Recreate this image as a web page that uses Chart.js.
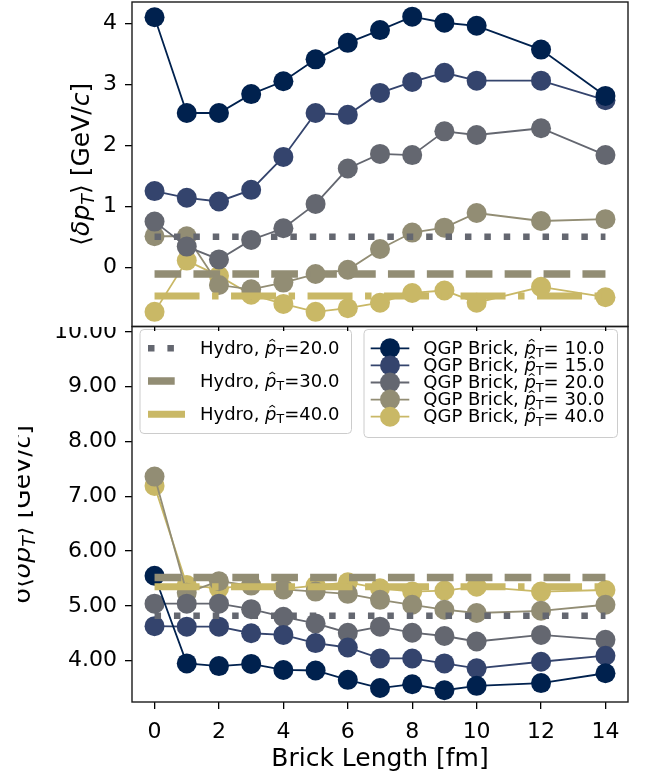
<!DOCTYPE html>
<html>
<head>
<meta charset="utf-8">
<script src="https://cdn.jsdelivr.net/npm/chart.js@4.4.1/dist/chart.umd.min.js"></script>
<style>
  body { margin: 0; background: #fff; }
  #wrap { position: relative; width: 652px; height: 781px; }
  canvas { position: absolute; left: 0; top: 0; }
</style>
</head>
<body>
<div id="wrap">
  <canvas id="sigmaChart" width="652" height="781"></canvas>
  <canvas id="meanChart" width="652" height="331"></canvas>
</div>
<script>
// ---- data ----
const brickLength = [0, 1, 2, 3, 4, 5, 6, 7, 8, 9, 10, 12, 14];
const qgpPtHat = [10, 15, 20, 30, 40];

// <delta pT> (top panel)
const meanPt10 = [4.10, 2.53, 2.53, 2.84, 3.05, 3.41, 3.68, 3.89, 4.11, 4.01, 3.96, 3.57, 2.81];
const meanPt15 = [1.25, 1.14, 1.08, 1.27, 1.81, 2.53, 2.50, 2.86, 3.04, 3.19, 3.06, 3.06, 2.74];
const meanPt20 = [0.75, 0.34, 0.13, 0.45, 0.64, 1.04, 1.62, 1.86, 1.84, 2.23, 2.17, 2.28, 1.84];
const meanPt30 = [0.51, 0.51, -0.29, -0.36, -0.25, -0.11, -0.04, 0.30, 0.57, 0.65, 0.89, 0.76, 0.79];
const meanPt40 = [-0.73, 0.11, -0.14, -0.45, -0.60, -0.73, -0.67, -0.58, -0.42, -0.38, -0.58, -0.32, -0.49];

// sigma(delta pT) (bottom panel)
const sigmaPt10 = [5.55, 3.95, 3.90, 3.94, 3.83, 3.82, 3.65, 3.50, 3.57, 3.46, 3.54, 3.59, 3.77];
const sigmaPt15 = [4.63, 4.62, 4.62, 4.50, 4.47, 4.32, 4.24, 4.04, 4.04, 3.95, 3.86, 3.98, 4.09];
const sigmaPt20 = [5.04, 5.04, 5.04, 4.94, 4.80, 4.68, 4.51, 4.62, 4.51, 4.45, 4.35, 4.47, 4.38];
const sigmaPt30 = [7.36, 5.24, 5.45, 5.37, 5.30, 5.26, 5.22, 5.11, 5.02, 4.93, 4.87, 4.91, 5.02];
const sigmaPt40 = [7.19, 5.38, 5.32, 5.38, 5.31, 5.37, 5.43, 5.32, 5.26, 5.28, 5.35, 5.26, 5.29];

// hydro reference values (constant in brick length)
const hydroPtHat = [20, 30, 40];
const hydroMean = [0.50, -0.11, -0.47];
const hydroSigma = [4.82, 5.52, 5.35];

const xTicks = [0, 2, 4, 6, 8, 10, 12, 14];
const meanTicks = [0, 1, 2, 3, 4];
const sigmaTicks = [4, 5, 6, 7, 8, 9, 10];

// ---- styles ----
const qgpColors = ['#00214e', '#34446d', '#646770', '#928d74', '#c9b866'];
const hydroColors = ['#646770', '#928d74', '#c9b866'];
const hydroWidth = [6.5, 7.5, 7];
const hydroDash = [[6.5, 12.9], [26.7, 12.2], [45, 12.5, 6.5, 12.5]];
const FONT = '"DejaVu Sans", sans-serif';

Chart.defaults.font.family = FONT;
Chart.defaults.color = '#000';

const toPts = ys => brickLength.map((x, i) => ({ x: x, y: ys[i] }));

function buildDatasets(series, hydro) {
  const sets = [];
  hydro.forEach((v, i) => {
    sets.push({
      data: [{ x: brickLength[0], y: v }, { x: brickLength[brickLength.length - 1], y: v }],
      borderColor: hydroColors[i],
      borderWidth: hydroWidth[i],
      borderDash: hydroDash[i],
      borderCapStyle: 'butt',
      pointRadius: 0,
      fill: false
    });
  });
  series.forEach((ys, i) => {
    sets.push({
      data: toPts(ys),
      borderColor: qgpColors[i],
      backgroundColor: qgpColors[i],
      borderWidth: 1.8,
      pointRadius: 10,
      pointBorderWidth: 0,
      pointBackgroundColor: qgpColors[i],
      fill: false,
      tension: 0
    });
  });
  return sets;
}

// rich text: segments with italic / subscript / hat
function segFont(seg, size) {
  const s = seg.sub ? size * 0.7 : size;
  return (seg.italic ? 'italic ' : '') + s + 'px ' + FONT;
}
function richWidth(ctx, segs, size) {
  let w = 0;
  segs.forEach(seg => { ctx.font = segFont(seg, size); w += ctx.measureText(seg.t).width; });
  return w;
}
function drawRich(ctx, segs, x, y, size) {
  ctx.textAlign = 'left';
  ctx.textBaseline = 'alphabetic';
  segs.forEach(seg => {
    ctx.font = segFont(seg, size);
    const w = ctx.measureText(seg.t).width;
    const dy = seg.sub ? size * 0.2 : 0;
    ctx.fillText(seg.t, x, y + dy);
    if (seg.hat) {
      const cx = x + w / 2 + size * 0.08;
      const top = y - size * 0.8;
      ctx.beginPath();
      ctx.moveTo(cx - size * 0.16, top + size * 0.11);
      ctx.lineTo(cx, top);
      ctx.lineTo(cx + size * 0.16, top + size * 0.11);
      ctx.lineWidth = size * 0.06;
      ctx.strokeStyle = ctx.fillStyle;
      ctx.stroke();
    }
    x += w;
  });
}

const meanLabel = [{ t: '⟨' }, { t: 'δ', italic: true }, { t: 'p', italic: true }, { t: 'T', italic: true, sub: true },
  { t: '⟩ [GeV/' }, { t: 'c', italic: true }, { t: ']' }];
const sigmaLabel = [{ t: 'σ' }, { t: '⟨' }, { t: 'δ', italic: true }, { t: 'p', italic: true }, { t: 'T', italic: true, sub: true },
  { t: '⟩ [GeV/' }, { t: 'c', italic: true }, { t: ']' }];
const ptLabel = (prefix, val) => [{ t: prefix }, { t: 'p', italic: true, hat: true }, { t: 'T', sub: true }, { t: val }];

function drawYLabel(ctx, segs, baseX, cy, size) {
  ctx.save();
  ctx.translate(baseX, cy);
  ctx.rotate(-Math.PI / 2);
  ctx.fillStyle = '#000';
  drawRich(ctx, segs, -richWidth(ctx, segs, size) / 2, 0, size);
  ctx.restore();
}

function drawFrame(chart) {
  const { ctx, chartArea: a } = chart;
  ctx.save();
  ctx.strokeStyle = '#1a1a1a';
  ctx.lineWidth = 1.4;
  ctx.strokeRect(a.left, a.top, a.right - a.left, a.bottom - a.top);
  ctx.restore();
}

function legendBox(ctx, x, y, w, h) {
  ctx.save();
  ctx.beginPath();
  ctx.roundRect(x, y, w, h, 4);
  ctx.fillStyle = 'rgba(255,255,255,0.8)';
  ctx.fill();
  ctx.strokeStyle = '#cccccc';
  ctx.lineWidth = 1;
  ctx.stroke();
  ctx.restore();
}

function xScale(labels, tickLen, height) {
  return {
    type: 'linear', min: -0.7, max: 14.7,
    afterBuildTicks: s => { s.ticks = xTicks.map(v => ({ value: v })); },
    ticks: { display: labels, font: { size: 22 }, color: '#000', padding: 10, maxRotation: 0 },
    grid: { drawOnChartArea: false, drawTicks: true, tickLength: tickLen, color: '#000', lineWidth: 1.3 },
    border: { display: false },
    title: labels ? { display: true, text: 'Brick Length [fm]', font: { size: 25 }, color: '#000', padding: { top: 0, bottom: 7 } } : { display: false },
    afterFit: s => { s.height = height; s.paddingLeft = 0; s.paddingRight = 0; }
  };
}

function yScale(min, max, ticks, fmt) {
  return {
    min: min, max: max,
    afterBuildTicks: s => { s.ticks = ticks.map(v => ({ value: v })); },
    ticks: { font: { size: 22 }, color: '#000', padding: 8, callback: fmt },
    grid: { drawOnChartArea: false, drawTicks: true, tickLength: 7, color: '#000', lineWidth: 1.3 },
    border: { display: false },
    afterFit: s => { s.width = 132; s.paddingTop = 0; s.paddingBottom = 0; }
  };
}

// ---- top panel: mean ----
const meanDecor = {
  id: 'meanDecor',
  afterDraw(chart) {
    drawFrame(chart);
    const a = chart.chartArea;
    drawYLabel(chart.ctx, meanLabel, 89, (a.top + a.bottom) / 2, 25);
  }
};

new Chart(document.getElementById('meanChart'), {
  type: 'line',
  data: { datasets: buildDatasets([meanPt10, meanPt15, meanPt20, meanPt30, meanPt40], hydroMean) },
  options: {
    responsive: false, animation: false, events: [],
    layout: { autoPadding: false, padding: { left: 0, right: 24, top: 2, bottom: 0 } },
    scales: {
      x: xScale(false, 7, 4.5),
      y: yScale(-0.97, 4.35, meanTicks, v => String(v))
    },
    plugins: { legend: { display: false }, tooltip: { enabled: false } }
  },
  plugins: [meanDecor]
});

// ---- bottom panel: sigma ----
const sigmaDecor = {
  id: 'sigmaDecor',
  afterDraw(chart) {
    const ctx = chart.ctx;
    // the upper figure sits on top of this one
    ctx.save();
    ctx.fillStyle = '#fff';
    ctx.fillRect(0, 0, chart.width, 327);
    ctx.restore();
    drawFrame(chart);

    // y label, cut at the left edge of the cropped figure
    const a = chart.chartArea;
    ctx.save();
    ctx.beginPath();
    ctx.rect(18, 0, chart.width, chart.height);
    ctx.clip();
    drawYLabel(ctx, sigmaLabel, 30, (a.top + a.bottom) / 2, 25);
    ctx.restore();

    // hydro legend
    const lsz = 18;
    legendBox(ctx, 140, 329.5, 211.5, 104);
    const hydroRows = [348.3, 381, 414.3];
    hydroPtHat.forEach((pt, i) => {
      const y = hydroRows[i];
      ctx.save();
      ctx.beginPath();
      ctx.moveTo(148, y);
      ctx.lineTo(185, y);
      ctx.strokeStyle = hydroColors[i];
      ctx.lineWidth = hydroWidth[i];
      ctx.setLineDash(hydroDash[i]);
      ctx.lineCap = 'butt';
      ctx.stroke();
      ctx.restore();
      ctx.save();
      ctx.fillStyle = '#000';
      drawRich(ctx, ptLabel('Hydro, ', '=' + pt.toFixed(1)), 200, y + 5.5, lsz);
      ctx.restore();
    });

    // QGP brick legend
    legendBox(ctx, 364, 329.5, 253.5, 108);
    const qgpRows = [348.3, 365.4, 382.5, 399.6, 416.7];
    qgpPtHat.forEach((pt, i) => {
      const y = qgpRows[i];
      ctx.save();
      ctx.beginPath();
      ctx.moveTo(370.7, y);
      ctx.lineTo(409.3, y);
      ctx.strokeStyle = qgpColors[i];
      ctx.lineWidth = 1.8;
      ctx.stroke();
      ctx.beginPath();
      ctx.arc(390, y, 10, 0, Math.PI * 2);
      ctx.fillStyle = qgpColors[i];
      ctx.fill();
      ctx.restore();
      ctx.save();
      ctx.fillStyle = '#000';
      drawRich(ctx, ptLabel('QGP Brick, ', '= ' + pt.toFixed(1)), 423.3, y + 5.5, lsz);
      ctx.restore();
    });
  }
};

new Chart(document.getElementById('sigmaChart'), {
  type: 'line',
  data: { datasets: buildDatasets([sigmaPt10, sigmaPt15, sigmaPt20, sigmaPt30, sigmaPt40], hydroSigma) },
  options: {
    responsive: false, animation: false, events: [],
    layout: { autoPadding: false, padding: { left: 0, right: 24, top: 326.5, bottom: 0 } },
    scales: {
      x: xScale(true, 7, 79),
      y: yScale(3.245, 10.1, sigmaTicks, v => v.toFixed(2))
    },
    plugins: { legend: { display: false }, tooltip: { enabled: false } }
  },
  plugins: [sigmaDecor]
});
</script>
</body>
</html>
